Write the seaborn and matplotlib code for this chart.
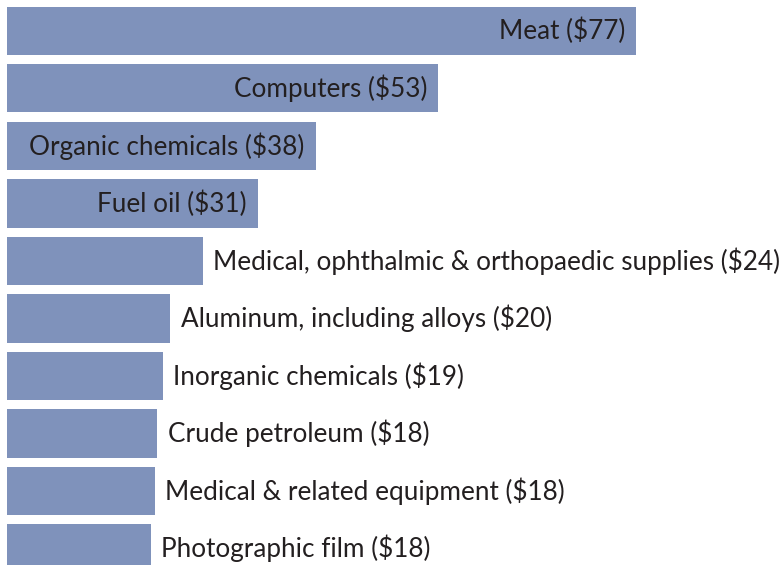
import matplotlib
matplotlib.use("Agg")
import matplotlib.pyplot as plt
import seaborn as sns
import pandas as pd

# values (billions of dollars)
categories = ["Meat", "Computers", "Organic chemicals", "Fuel oil",
              "Medical, ophthalmic & orthopaedic supplies", "Aluminum, including alloys",
              "Inorganic chemicals", "Crude petroleum", "Medical & related equipment",
              "Photographic film"]
values = [77, 52.8, 37.8, 30.7, 24.0, 20.0, 19.1, 18.4, 18.1, 17.6]
shown = ["$77", "$53", "$38", "$31", "$24", "$20", "$19", "$18", "$18", "$18"]
inside = [True, True, True, True, False, False, False, False, False, False]

df = pd.DataFrame({"item": categories, "value": values})

sns.set_style("white")
plt.rcParams['font.family'] = ['Lato', 'DejaVu Sans']

fig = plt.figure(figsize=(7.83, 5.65), dpi=100)
ax = fig.add_axes([0, 0, 1, 1])
sns.barplot(data=df, y="item", x="value", orient="h", color="#7f92bb",
            saturation=1, width=0.835, linewidth=0, ax=ax)

for i, (v, lab, ins) in enumerate(zip(values, shown, inside)):
    txt = f"{categories[i]} ({lab})"
    if ins:
        ax.annotate(txt, (v, i), xytext=(-8, 0), textcoords="offset points",
                    ha="right", va="center", fontsize=18.8, color="#231f20")
    else:
        ax.annotate(txt, (v, i), xytext=(7.5, 0), textcoords="offset points",
                    ha="left", va="center", fontsize=18.8, color="#231f20")

ax.set_xlim(-0.857, 95.0)
ax.set_ylim(9.287, -0.539)
ax.axis("off")
fig.savefig("out.png", dpi=100)
